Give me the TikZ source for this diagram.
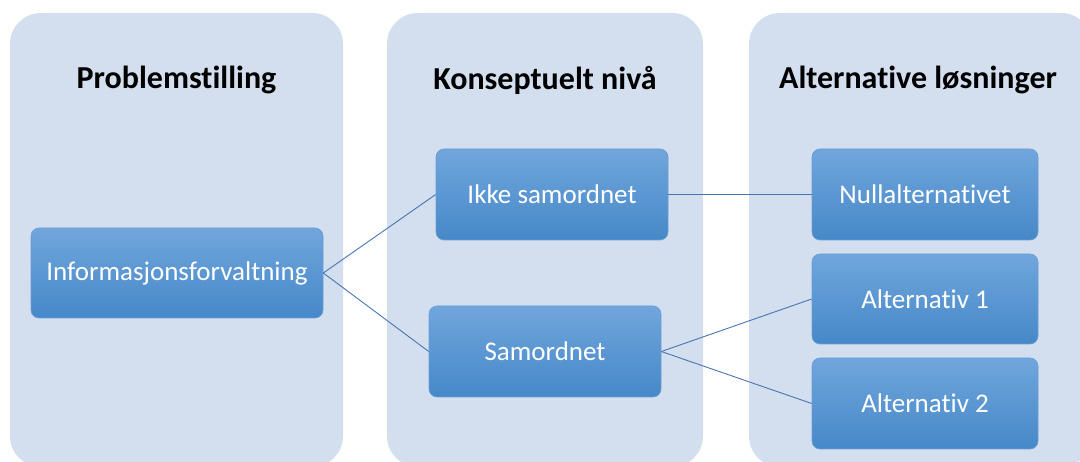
\documentclass[tikz,border=0pt]{standalone}
\usepackage{fontspec}
\setmainfont{Carlito}[Ligatures=NoCommon]
\begin{document}
\begin{tikzpicture}[x=1pt,y=-1pt,
  panel/.style={fill=panelblue, draw=none, rounded corners=31pt},
  heading/.style={font=\bfseries\fontsize{32}{36}\selectfont, text=black},
  box/.style={rectangle, rounded corners=8pt, top color=boxtop, middle color=boxmid,
    bottom color=boxbot, draw=boxedge, line width=0.6pt, text=white,
    font=\fontsize{27}{31}\selectfont, inner sep=0pt},
  link/.style={draw=linkblue, line width=0.9pt}]
\definecolor{panelblue}{RGB}{211,222,238}
\definecolor{boxtop}{RGB}{112,166,220}
\definecolor{boxmid}{RGB}{88,153,216}
\definecolor{boxbot}{RGB}{70,136,200}
\definecolor{boxedge}{RGB}{104,158,214}
\definecolor{linkblue}{RGB}{72,118,178}
\useasboundingbox (0,0) rectangle (1080,462);

% column panels
\path[panel] (10,13) rectangle (343,467);
\path[panel] (387,13) rectangle (703,467);
\path[panel] (749,13) rectangle (1092,467);

% column headings
\node[heading] (h1) at (176.5,80) {Problemstilling};
\node[heading] (h2) at (545,80) {Konseptuelt nivå};
\node[heading] (h3) at (918,80) {Alternative løsninger};

% boxes
\node[box, minimum width=292pt, minimum height=90pt] (info) at (177,273) {Informasjonsforvaltning};
\node[box, minimum width=232pt, minimum height=91pt] (ikke) at (552,194.5) {Ikke samordnet};
\node[box, minimum width=232pt, minimum height=91pt] (sam) at (545,351.5) {Samordnet};
\node[box, minimum width=226pt, minimum height=91pt] (null) at (925,194.5) {Nullalternativet};
\node[box, minimum width=226pt, minimum height=90pt] (alt1) at (925,299) {Alternativ 1};
\node[box, minimum width=226pt, minimum height=91pt] (alt2) at (925,403.5) {Alternativ 2};

% connectors
\draw[link] (info.east) -- (ikke.west);
\draw[link] (info.east) -- (sam.west);
\draw[link] (ikke.east) -- (null.west);
\draw[link] (sam.east) -- (alt1.west);
\draw[link] (sam.east) -- (alt2.west);
\end{tikzpicture}
\end{document}
